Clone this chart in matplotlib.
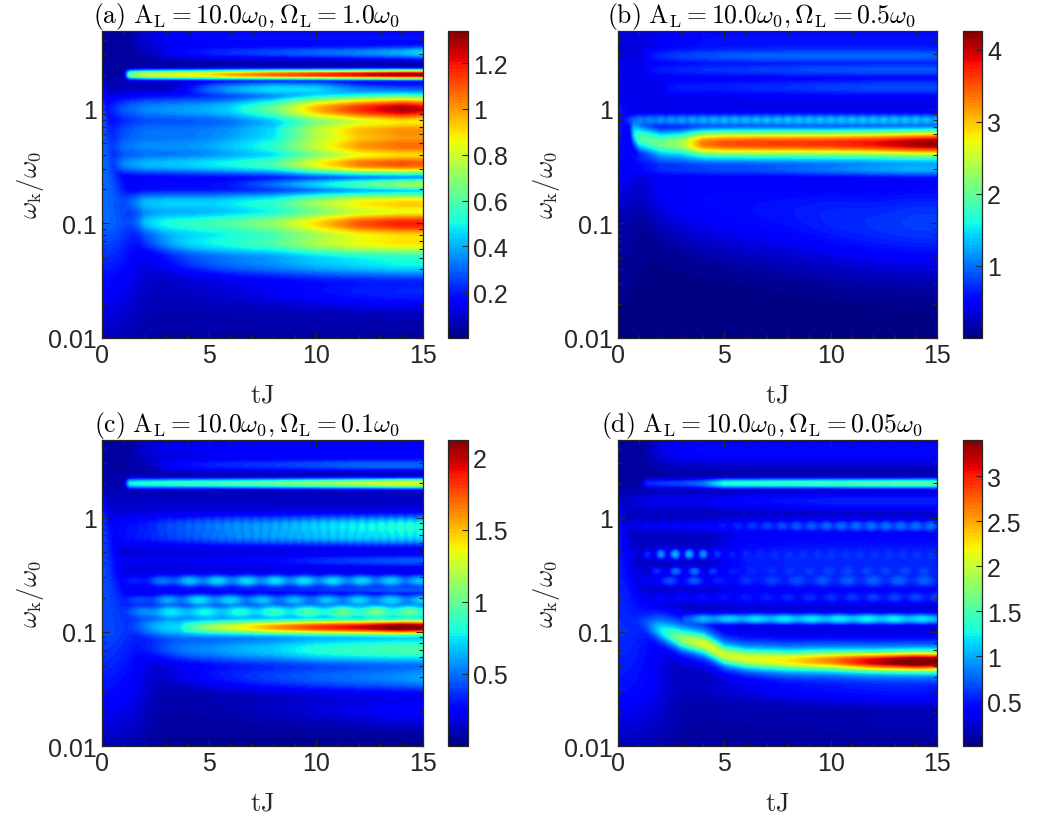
import numpy as np
import matplotlib.pyplot as plt
from matplotlib.ticker import FixedLocator, MultipleLocator, LogLocator, NullFormatter, FuncFormatter

plt.rcParams['mathtext.fontset'] = 'cm'
plt.rcParams['font.family'] = ['Liberation Sans', 'DejaVu Sans']

T_KNOTS = [0, 1, 2, 3, 4, 5, 6, 8, 10, 12, 14, 15]
# frequencies at which the background floor and the early-time front were read
EDGE_FREQ = [0.01, 0.03, 0.1, 0.3, 1.0, 2.0, 4.8]

# ---- panel (a): Omega_L = 1.0 ----
A_FREQ = [4.2, 3.1, 2.0, 1.5, 1.0, 0.65, 0.47, 0.33, 0.22, 0.15, 0.1, 0.068, 0.045, 0.025]
A_WIDTH = [0.12, 0.04, 0.028, 0.05, 0.09, 0.085, 0.085, 0.07, 0.04, 0.08, 0.09, 0.09, 0.1, 0.12]
A_START = [1.0, 2.0, 0.95, 3.0, 0, 0, 0, 0, 0, 0, 0, 0, 0, 0]
A_RIPPLE = [0, 0, 0, 0, 0, 0, 0, 0, 0, 0, 0, 0, 0, 0]
A_PERIOD = [1, 1, 1, 1, 1, 1, 1, 1, 1, 1, 1, 1, 1, 1]
A_LEVEL = [
    [0, 0, .10, .14, .16, .17, .18, .18, .18, .18, .18, .18],
    [0, 0, 0, .10, .15, .18, .20, .24, .28, .32, .38, .45],
    [0, .60, .78, .83, .86, .90, .98, 1.08, 1.15, 1.22, 1.30, 1.30],
    [0, 0, 0, 0, .15, .28, .36, .45, .42, .26, .20, .20],
    [.10, .25, .32, .34, .36, .38, .43, .62, .95, 1.15, 1.28, 1.22],
    [.10, .22, .28, .28, .28, .30, .32, .42, .72, .90, .96, .96],
    [.10, .28, .32, .32, .33, .35, .40, .50, .75, .95, 1.02, 1.02],
    [.10, .32, .38, .40, .42, .45, .48, .56, .82, 1.02, 1.08, 1.06],
    [.05, .10, .12, .12, .12, .13, .15, .28, .42, .56, .68, .72],
    [.05, .25, .40, .42, .42, .42, .45, .52, .70, .85, .90, .90],
    [.05, .20, .48, .50, .52, .55, .58, .68, .88, 1.08, 1.16, 1.16],
    [.05, .15, .38, .42, .45, .47, .50, .57, .72, .82, .86, .86],
    [.03, .10, .24, .27, .29, .30, .31, .34, .40, .44, .48, .48],
    [.03, .06, .10, .11, .12, .13, .13, .15, .17, .19, .20, .20],
]
A_FLOOR = [0.04, 0.08, 0.10, 0.12, 0.12, 0.04, 0.03]
A_FRONT_T = [1.6, 1.6, 1.6, 0.6, 0.2, 0.1, 0.1]
A_FRONT_LEVEL = [0.06, 0.15, 0.30, 0.30, 0.28, 0.05, 0.03]
A_ONSET, A_MAX = 0.16, 1.34

# ---- panel (b): Omega_L = 0.5 ----
B_MAIN = [0.8, 0.56, 0.5, 0.5, 0.5, 0.5, 0.5, 0.5, 0.5, 0.5, 0.5, 0.5]
B_SHELF = [0.2, 0.2, 0.18, 0.16, 0.15, 0.14, 0.13, 0.12, 0.11, 0.1, 0.1, 0.1]
B_FREQ = [3.9, 2.9, 2.2, 1.55, 0.8, B_MAIN, 0.37, 0.3, B_SHELF]
B_WIDTH = [0.12, 0.05, 0.05, 0.06, 0.04, 0.085, 0.05, 0.05, 0.3]
B_START = [1.0, 1.0, 1.0, 2.0, 0, 0.4, 0, 0, 0]
B_RIPPLE = [0, 0, 0, 0, 0.06, 0, 0, 0, 0]
B_PERIOD = [1, 1, 1, 1, 0.5, 1, 1, 1, 1]
B_LEVEL = [
    [0, 0, .30, .40, .45, .48, .50, .50, .50, .50, .50, .50],
    [0, .30, .55, .65, .70, .75, .78, .80, .80, .80, .80, .78],
    [0, .30, .50, .55, .60, .62, .65, .70, .75, .78, .78, .78],
    [0, 0, .40, .50, .50, .52, .55, .60, .68, .72, .72, .72],
    [.20, .90, 1.00, 1.05, 1.10, 1.15, 1.15, 1.20, 1.20, 1.20, 1.20, 1.15],
    [0, 1.85, 2.00, 2.30, 3.30, 3.50, 3.55, 3.60, 3.65, 3.80, 4.10, 4.20],
    [.10, .50, .70, .75, .80, .85, .85, .90, .95, 1.00, 1.05, 1.05],
    [.10, .40, .55, .60, .65, .70, .72, .82, .95, 1.10, 1.20, 1.20],
    [.05, .20, .40, .45, .50, .52, .55, .60, .68, .72, .78, .78],
]
B_FLOOR = [0.02, 0.03, 0.08, 0.30, 0.40, 0.40, 0.35]
B_FRONT_T = [1.0, 1.0, 1.0, 0.8, 0.3, 0.1, 0.1]
B_FRONT_LEVEL = [0.02, 0.05, 0.15, 0.45, 0.55, 0.10, 0.10]
B_ONSET, B_MAX = 0.15, 4.26

# ---- panel (c): Omega_L = 0.1 ----
C_FREQ = [4.0, 2.9, 2.0, 0.85, 0.68, 0.42, 0.28, 0.235, 0.19, 0.15, 0.11, 0.11, 0.07, 0.04, 0.02]
C_WIDTH = [0.12, 0.04, 0.03, 0.07, 0.06, 0.04, 0.04, 0.03, 0.04, 0.05, 0.045, 0.08, 0.1, 0.1, 0.12]
C_START = [1.0, 2.0, 0.95, 0, 0, 0, 0, 0, 0, 0, 3.5, 0, 0, 0, 0]
C_RIPPLE = [0, 0, 0, .05, .05, 0, .15, 0, .15, .1, 0, 0, 0, 0, 0]
C_PERIOD = [1, 1, 1, .45, .4, 1, 1.35, 1, 1.5, 1.6, 1, 1, 1, 1, 1]
C_LEVEL = [
    [0, 0, .15, .20, .20, .22, .24, .25, .25, .25, .25, .25],
    [0, 0, 0, .20, .25, .30, .32, .35, .40, .45, .45, .45],
    [0, .75, .82, .85, .88, .90, .93, 1.00, 1.10, 1.20, 1.30, 1.30],
    [.10, .20, .25, .35, .40, .45, .50, .55, .65, .72, .78, .78],
    [.10, .20, .25, .30, .35, .40, .45, .50, .55, .60, .62, .62],
    [.05, .12, .12, .12, .12, .13, .15, .20, .30, .35, .40, .40],
    [.05, .20, .30, .45, .55, .60, .60, .62, .62, .60, .58, .55],
    [.05, .10, .15, .20, .20, .20, .22, .25, .30, .35, .40, .40],
    [.05, .25, .40, .50, .60, .65, .60, .55, .55, .60, .60, .60],
    [.05, .35, .55, .65, .68, .70, .72, .78, .85, .92, .90, .85],
    [0, 0, 0, 0, .50, .85, 1.05, 1.40, 1.65, 1.80, 2.05, 1.95],
    [.05, .35, .60, .70, .72, .72, .70, .68, .70, .72, .75, .75],
    [.05, .30, .50, .52, .55, .55, .60, .68, .82, .88, .92, .92],
    [.03, .15, .25, .30, .32, .35, .36, .40, .45, .50, .55, .60],
    [.02, .08, .12, .14, .15, .16, .17, .18, .20, .22, .25, .25],
]
C_FLOOR = [0.04, 0.08, 0.12, 0.18, 0.18, 0.08, 0.05]
C_FRONT_T = [2.0, 2.0, 1.8, 0.7, 0.25, 0.1, 0.1]
C_FRONT_LEVEL = [0.10, 0.28, 0.42, 0.40, 0.38, 0.05, 0.05]
C_ONSET, C_MAX = 0.17, 2.12

# ---- panel (d): Omega_L = 0.05 ----
D_MAIN = [0.12, 0.12, 0.1, 0.085, 0.078, 0.062, 0.058, 0.056, 0.056, 0.055, 0.055, 0.055]
D_FREQ = [4.0, 2.0, 1.4, 0.85, 0.48, 0.34, 0.28, 0.2, 0.4, 0.13, D_MAIN, D_MAIN, 0.03, 0.015]
D_WIDTH = [0.12, 0.03, 0.06, 0.04, 0.035, 0.03, 0.04, 0.04, 0.25, 0.035, 0.06, 0.13, 0.1, 0.1]
D_START = [1.0, 1.0, 0, 0, 0, 0, 0, 0, 4.0, 2.8, 0, 0, 0, 0]
D_RIPPLE = [0, 0, 0, .15, .5, .5, .3, .2, 0, .08, 0, 0, 0, 0]
D_PERIOD = [1, 1, 1, .7, .67, .9, 1.2, 1.0, 1, 1.3, 1, 1, 1, 1]
D_LEVEL = [
    [0, 0, .30, .40, .42, .45, .45, .45, .45, .45, .45, .45],
    [0, .50, .60, .65, .80, 1.30, 1.35, 1.40, 1.45, 1.50, 1.55, 1.55],
    [.10, .25, .30, .30, .30, .35, .40, .45, .50, .50, .50, .50],
    [.10, .25, .30, .32, .35, .40, .45, .55, .62, .65, .65, .65],
    [.10, .20, .60, .70, .60, .25, .20, .20, .20, .20, .20, .20],
    [.10, .20, .40, .55, .50, .25, .20, .20, .25, .25, .25, .25],
    [.10, .20, .45, .55, .50, .30, .32, .38, .42, .45, .45, .45],
    [.10, .20, .30, .32, .35, .35, .35, .38, .40, .45, .48, .48],
    [0, 0, 0, 0, 0, .30, .45, .50, .52, .52, .52, .52],
    [0, 0, 0, .50, .90, 1.00, 1.05, 1.10, 1.10, 1.15, 1.10, 1.05],
    [.10, .80, 1.30, 1.75, 1.85, 1.85, 1.85, 1.90, 2.30, 2.90, 3.35, 3.20],
    [.10, .60, 1.20, 1.30, 1.25, 1.15, 1.15, 1.20, 1.25, 1.30, 1.35, 1.35],
    [.05, .20, .30, .35, .40, .45, .45, .45, .45, .45, .45, .40],
    [.03, .10, .15, .15, .17, .18, .18, .18, .18, .18, .18, .15],
]
D_FLOOR = [0.08, 0.15, 0.25, 0.20, 0.20, 0.10, 0.08]
D_FRONT_T = [2.2, 2.2, 1.8, 0.7, 0.25, 0.1, 0.1]
D_FRONT_LEVEL = [0.15, 0.45, 0.55, 0.50, 0.45, 0.10, 0.08]
D_ONSET, D_MAX = 0.2, 3.4

TITLES = [
    r'$\mathrm{(a)\ A_L} = 10.0\omega_0, \Omega_\mathrm{L} = 1.0\omega_0$',
    r'$\mathrm{(b)\ A_L} = 10.0\omega_0, \Omega_\mathrm{L} = 0.5\omega_0$',
    r'$\mathrm{(c)\ A_L} = 10.0\omega_0, \Omega_\mathrm{L} = 0.1\omega_0$',
    r'$\mathrm{(d)\ A_L} = 10.0\omega_0, \Omega_\mathrm{L} = 0.05\omega_0$',
]
CBAR_TICKS = [
    [0.2, 0.4, 0.6, 0.8, 1.0, 1.2],
    [1, 2, 3, 4],
    [0.5, 1.0, 1.5, 2.0],
    [0.5, 1.0, 1.5, 2.0, 2.5, 3.0],
]

t = np.linspace(0, 15, 301)
logw = np.linspace(-2, np.log10(4.8), 281)
T, LW = np.meshgrid(t, logw)
W = 10 ** LW


def spectrum(freq, width, start, level, ripple, period, floor, front_t, front_level, onset):
    gate = 1 - np.exp(-(T * W / onset) ** 2)
    total = np.zeros_like(T)
    for f, s, t0, lev, rp, pr in zip(freq, width, start, level, ripple, period):
        if np.ndim(f):
            c = np.log10(np.interp(T, T_KNOTS, f))
        else:
            c = np.log10(f)
        amp = np.interp(T, T_KNOTS, lev)
        on = np.clip((T - t0) / 0.4, 0, 1)
        on = on * on * (3 - 2 * on)
        wave = 1 + rp * np.cos(2 * np.pi * T / pr)
        band = amp * on * wave * np.exp(-(LW - c) ** 2 / (2 * s * s)) * gate
        total += band ** 2
    lf = np.log10(EDGE_FREQ)
    base = np.interp(LW, lf, floor)
    tf = np.interp(LW, lf, front_t)
    front = np.interp(LW, lf, front_level) / (1 + np.exp((T - tf) / (0.25 * tf + 0.05)))
    total += base ** 2 + front ** 2
    return np.sqrt(total)


panels = [
    (A_FREQ, A_WIDTH, A_START, A_LEVEL, A_RIPPLE, A_PERIOD, A_FLOOR, A_FRONT_T, A_FRONT_LEVEL, A_ONSET, A_MAX),
    (B_FREQ, B_WIDTH, B_START, B_LEVEL, B_RIPPLE, B_PERIOD, B_FLOOR, B_FRONT_T, B_FRONT_LEVEL, B_ONSET, B_MAX),
    (C_FREQ, C_WIDTH, C_START, C_LEVEL, C_RIPPLE, C_PERIOD, C_FLOOR, C_FRONT_T, C_FRONT_LEVEL, C_ONSET, C_MAX),
    (D_FREQ, D_WIDTH, D_START, D_LEVEL, D_RIPPLE, D_PERIOD, D_FLOOR, D_FRONT_T, D_FRONT_LEVEL, D_ONSET, D_MAX),
]

# axes boxes in figure fractions: [left, bottom, width, height]
AX_POS = [
    [0.0960, 0.5950, 0.3020, 0.3668],
    [0.5814, 0.5950, 0.3001, 0.3668],
    [0.0960, 0.1075, 0.3020, 0.3656],
    [0.5814, 0.1075, 0.3001, 0.3656],
]
CB_POS = [
    [0.4215, 0.5950, 0.0188, 0.3668],
    [0.9060, 0.5950, 0.0179, 0.3668],
    [0.4215, 0.1075, 0.0188, 0.3656],
    [0.9060, 0.1075, 0.0179, 0.3656],
]

edge = '#262626'
fig = plt.figure(figsize=(10.63, 8.37), dpi=100)

for i, p in enumerate(panels):
    *args, vmax = p
    z = np.clip(spectrum(*args), 0, vmax * 0.999)
    ax = fig.add_axes(AX_POS[i])
    cs = ax.contourf(T, W, z, levels=np.linspace(0, vmax, 90), cmap='jet', vmin=0, vmax=vmax)
    ax.set_yscale('log')
    ax.set_xlim(0, 15)
    ax.set_ylim(0.01, 4.8)
    ax.xaxis.set_major_locator(FixedLocator([0, 5, 10, 15]))
    ax.xaxis.set_minor_locator(MultipleLocator(1))
    ax.yaxis.set_major_locator(FixedLocator([0.01, 0.1, 1]))
    ax.yaxis.set_minor_locator(LogLocator(base=10, subs=np.arange(2, 10)))
    ax.yaxis.set_minor_formatter(NullFormatter())
    ax.yaxis.set_major_formatter(FuncFormatter(lambda v, pos: '%g' % v))
    ax.tick_params(which='both', direction='in', top=True, right=True, color=edge,
                   labelsize=18, labelcolor=edge, width=0.8)
    ax.tick_params(which='major', length=5)
    ax.tick_params(which='minor', length=3)
    for sp in ax.spines.values():
        sp.set_color(edge)
        sp.set_linewidth(0.9)
    ax.set_xlabel(r'$\mathrm{tJ}$', fontsize=19, color=edge, labelpad=11)
    ax.set_ylabel(r'$\omega_\mathrm{k}/\omega_0$', fontsize=19, color=edge, labelpad=2)
    ax.set_title(TITLES[i], fontsize=18.5, x=0.45, pad=4)

    cax = fig.add_axes(CB_POS[i])
    cb = fig.colorbar(cs, cax=cax, ticks=CBAR_TICKS[i])
    cb.ax.set_yticklabels(['%g' % v for v in CBAR_TICKS[i]])
    cb.ax.tick_params(direction='in', length=4, color=edge, labelsize=18, labelcolor=edge, width=0.8)
    cb.outline.set_edgecolor(edge)
    cb.outline.set_linewidth(0.9)

fig.savefig('out.png', dpi=100)
